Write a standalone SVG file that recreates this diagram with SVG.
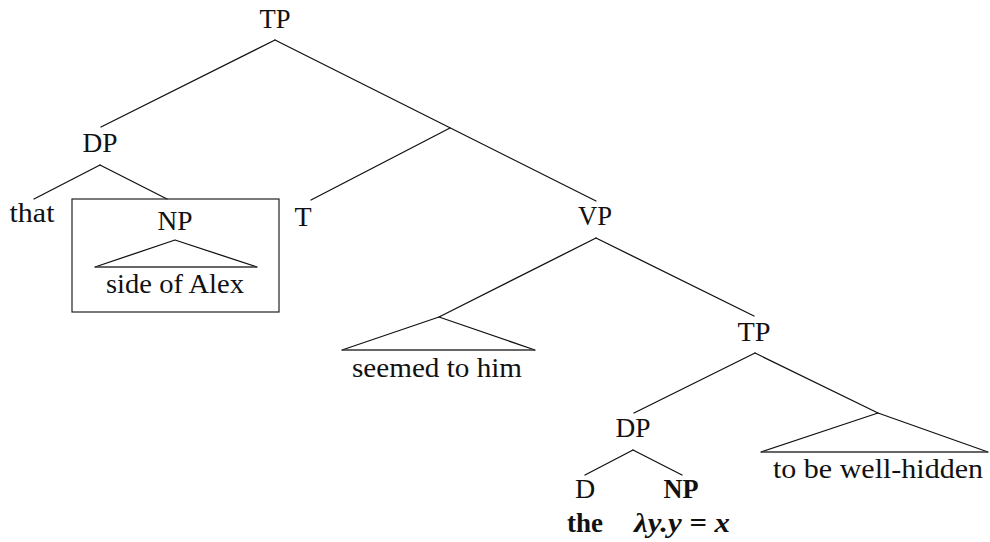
<svg xmlns="http://www.w3.org/2000/svg" width="990" height="542" viewBox="0 0 990 542">
<style>
text { font-family: "Liberation Serif", "Times New Roman", serif; font-size: 28px; fill: #111; text-anchor: middle; }
.b { font-weight: bold; }
.bi { font-weight: bold; font-style: italic; }
.e { stroke: #111; stroke-width: 1.3; fill: none; stroke-linecap: round; }
.base { stroke: #333; stroke-width: 1.4; fill: none; }
</style>
<rect width="990" height="542" fill="#fff"/>
<g id="connectors">
  <line class="e" x1="275" y1="40" x2="101" y2="127"/>
  <line class="e" x1="275" y1="40" x2="596" y2="201"/>
  <line class="e" x1="450" y1="128" x2="311" y2="200"/>
  <line class="e" x1="100" y1="165" x2="34" y2="199"/>
  <line class="e" x1="100" y1="165" x2="167" y2="199"/>
  <line class="e" x1="596" y1="238" x2="439" y2="317"/>
  <line class="e" x1="596" y1="238" x2="754" y2="316"/>
  <line class="e" x1="755" y1="353" x2="634" y2="413"/>
  <line class="e" x1="755" y1="353" x2="878" y2="413"/>
  <line class="e" x1="633" y1="450" x2="585" y2="475"/>
  <line class="e" x1="633" y1="450" x2="682" y2="475"/>
</g>
<g id="TP-root"><text x="275" y="28" textLength="31" lengthAdjust="spacingAndGlyphs">TP</text></g>
<g id="DP-upper"><text x="100" y="152" textLength="35" lengthAdjust="spacingAndGlyphs">DP</text></g>
<g id="that"><text x="32" y="222" textLength="45" lengthAdjust="spacingAndGlyphs">that</text></g>
<g id="NP-box">
  <rect x="72" y="199" width="207" height="113" fill="none" stroke="#222" stroke-width="1.2"/>
  <text x="175" y="230" textLength="35" lengthAdjust="spacingAndGlyphs">NP</text>
  <path class="e" d="M175 240 L95 267 M175 240 L257 267"/>
  <line class="base" x1="95" y1="267" x2="257" y2="267"/>
  <text x="175" y="293" textLength="138" lengthAdjust="spacingAndGlyphs">side of Alex</text>
</g>
<g id="T"><text x="303" y="226">T</text></g>
<g id="VP"><text x="595" y="225" textLength="34" lengthAdjust="spacingAndGlyphs">VP</text></g>
<g id="seemed">
  <path class="e" d="M439 317 L342 350 M439 317 L535 350"/>
  <line class="base" x1="342" y1="350" x2="535" y2="350"/>
  <text x="437" y="377" textLength="170" lengthAdjust="spacingAndGlyphs">seemed to him</text>
</g>
<g id="TP-lower"><text x="754" y="341" textLength="33" lengthAdjust="spacingAndGlyphs">TP</text></g>
<g id="DP-lower"><text x="633" y="437" textLength="35" lengthAdjust="spacingAndGlyphs">DP</text></g>
<g id="D">
  <text x="585" y="498">D</text>
  <text class="b" x="585" y="532" textLength="36" lengthAdjust="spacingAndGlyphs">the</text>
</g>
<g id="NP-lower">
  <text class="b" x="681" y="498" textLength="35" lengthAdjust="spacingAndGlyphs">NP</text>
  <text class="bi" x="682" y="532" textLength="96" lengthAdjust="spacingAndGlyphs">λy.y = x</text>
</g>
<g id="well-hidden">
  <path class="e" d="M878 413 L761 452 M878 413 L988 452"/>
  <line class="base" x1="761" y1="452" x2="988" y2="452"/>
  <text x="878" y="478" textLength="210" lengthAdjust="spacingAndGlyphs">to be well-hidden</text>
</g>
</svg>
